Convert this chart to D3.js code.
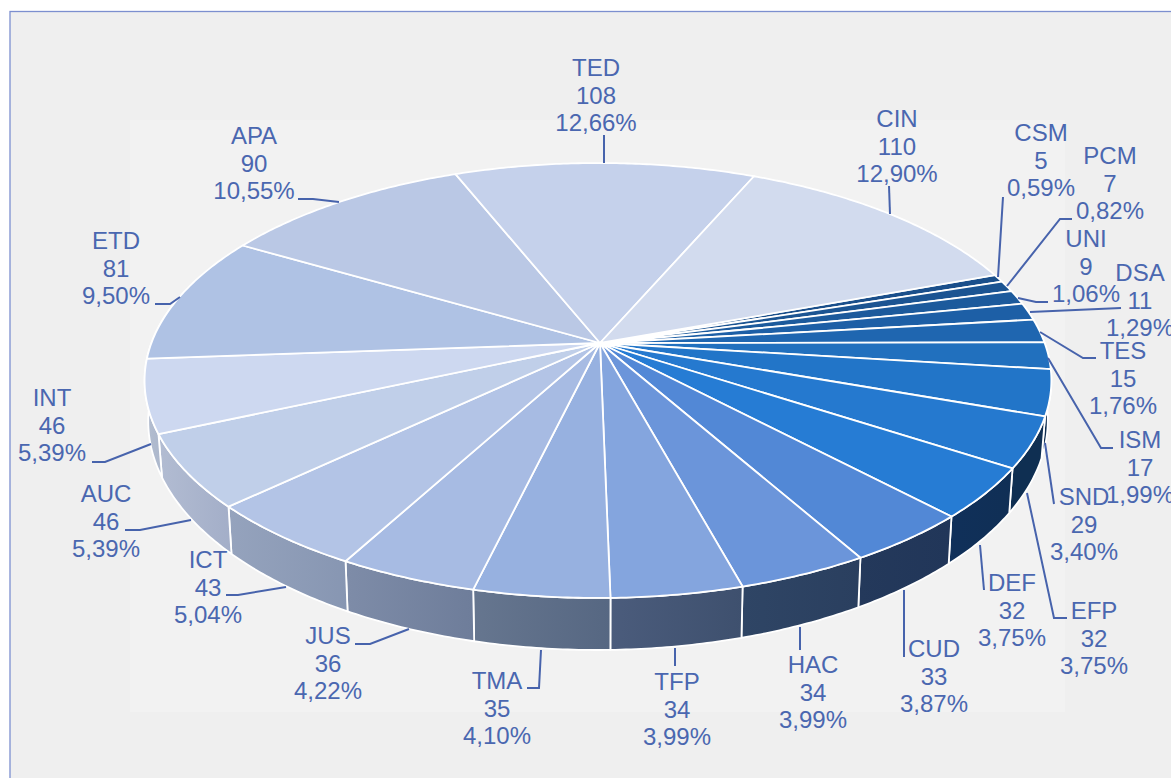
<!DOCTYPE html>
<html>
<head>
<meta charset="utf-8">
<script src="https://cdn.jsdelivr.net/npm/d3@7/dist/d3.min.js"></script>
<style>html,body{margin:0;padding:0;background:#fff;overflow:hidden}svg{display:block}text{font-family:"Liberation Sans",Arial,sans-serif}</style>
</head>
<body>
<svg id="chart" width="1171" height="778"></svg>
<script>
// Data, clockwise from the first slice
const categories = ["CSM","PCM","UNI","DSA","TES","ISM","SND","EFP","DEF","CUD","HAC","TFP","TMA","JUS","ICT","AUC","INT","ETD","APA","TED","CIN"];
const counts = [5,7,9,11,15,17,29,32,32,33,34,34,35,36,43,46,46,81,90,108,110];
const percents = ["0,59%","0,82%","1,06%","1,29%","1,76%","1,99%","3,40%","3,75%","3,75%","3,87%","3,99%","3,99%","4,10%","4,22%","5,04%","5,39%","5,39%","9,50%","10,55%","12,66%","12,90%"];

// Styles
const topColors = ["#1A4F8B","#1B5492","#1C5A9C","#1D5FA6","#1F66B0","#2170BE","#2275C8","#2579CF","#267CD4","#5288D6","#6B95DA","#84A5DE","#97B1E0","#A7BBE3","#B3C4E6","#C0CFE9","#CDD8F0","#AFC2E4","#BAC8E5","#C5D1EB","#D2DBEE"];
const wallLeft = ["#1A4F8B","#1B5492","#1C5A9C","#1D5FA6","#0D2A4A","#0D2A4A","#0E2C4E","#0F2F52","#10305A","#24395B","#2F4565","#4B5C7C","#66768F","#7E8CA8","#95A3BD","#B2BCD2","#B4BED0","#AFC2E4","#BAC8E5","#C5D1EB","#D2DBEE"];
const wallRight = ["#1A4F8B","#1B5492","#1C5A9C","#1D5FA6","#0D2A4A","#0D2A4A","#0E2C4E","#0F2F52","#102F55","#213659","#2A3F5F","#3E506E","#566782","#6E7D9A","#8796B2","#A3AEC8","#ACB7CC","#AFC2E4","#BAC8E5","#C5D1EB","#D2DBEE"];
const inkColor = "#4A67B0", leaderColor = "#4763AC";

// Label layout: x centre, baseline of the first line, leader polyline (in page pixels)
const labelLayout = {
  CSM:{x:1041,y:141,leader:[[1003,197],[998,277]]},
  PCM:{x:1110,y:164,leader:[[1072,219],[1060,219],[1007,286]]},
  UNI:{x:1086,y:247,leader:[[1048,302],[1036,302],[1018,298]]},
  DSA:{x:1140,y:281,leader:[[1121,308],[1030,312]]},
  TES:{x:1123,y:359,leader:[[1096,358],[1083,358],[1040,332]]},
  ISM:{x:1140,y:448,leader:[[1113,448],[1101,448],[1048,358]]},
  SND:{x:1084,y:505,leader:[[1054,504],[1045,443]]},
  EFP:{x:1094,y:619,leader:[[1067,618],[1054,618],[1027,493]]},
  DEF:{x:1012,y:591,leader:[[984,590],[980,545]]},
  CUD:{x:934,y:657,leader:[[904,657],[904,590]]},
  HAC:{x:813,y:673,leader:[[800,650],[800,627]]},
  TFP:{x:677,y:690,leader:[[675,666],[675,648]]},
  TMA:{x:497,y:689,leader:[[527,688],[539,688],[541,650]]},
  JUS:{x:328,y:644,leader:[[355,644],[370,644],[409,629]]},
  ICT:{x:208,y:568,leader:[[226,595],[238,595],[286,587]]},
  AUC:{x:106,y:502,leader:[[125,530],[140,530],[191,520]]},
  INT:{x:52,y:406,leader:[[92,462],[105,462],[151,444]]},
  ETD:{x:116,y:249,leader:[[155,304],[170,304],[180,297]]},
  APA:{x:254,y:144,leader:[[298,199],[313,199],[339,202]]},
  TED:{x:596,y:76,leader:[[604,135],[604,163]]},
  CIN:{x:897,y:127,leader:[[889,186],[890,214]]}
};

// Perspective disc: circle -> screen
const cx = 600, cy = 343, R = 446.6, A = 211, k = 0.1724, j = -0.0044;
const first = 70.0 * Math.PI / 180;
const fOf = (t) => 1 / (1 + k * Math.cos(t) - j * Math.sin(t));
const project = (t) => {
  const f = fOf(t);
  return [cx + R * Math.sin(t) * f, cy - A * Math.cos(t) * f];
};
const projectBottom = (t) => {
  const f = fOf(t);
  const d = 52 * Math.pow(f / 1.208, 1.6);
  return [cx + R * Math.sin(t) * f * 0.992, cy - A * Math.cos(t) * f + d];
};
const samples = (a, b) => {
  const n = Math.max(2, Math.ceil((b - a) / 0.01));
  return d3.range(n + 1).map(i => a + (b - a) * i / n);
};

const svg = d3.select("#chart");
const pieGen = d3.pie().sort(null).startAngle(first).endAngle(first + 2 * Math.PI);
const arcs = pieGen(counts);
const line = d3.line();

// Frame and plot area
svg.append("rect").attr("x",10).attr("y",11.5).attr("width",1200).attr("height",800)
  .attr("fill","#EFEFEF").attr("stroke","#7C8FCF").attr("stroke-width",1.3);
svg.append("rect").attr("x",130).attr("y",120).attr("width",935).attr("height",592).attr("fill","#F2F2F2");

// Gradients
const defs = svg.append("defs");
categories.forEach((c, i) => {
  const g = defs.append("linearGradient").attr("id","w"+c).attr("x1","0").attr("x2","1").attr("y1","0").attr("y2","0");
  g.append("stop").attr("offset","0").attr("stop-color",wallLeft[i]);
  g.append("stop").attr("offset","1").attr("stop-color",wallRight[i]);
});

// Walls: only where the rim faces the viewer
const frontStart = Math.PI / 2 - 0.18, frontEnd = 3 * Math.PI / 2 + 0.18;
svg.append("g").selectAll("path").data(arcs).join("path")
  .attr("d", d => {
    const a = Math.max(d.startAngle, frontStart), b = Math.min(d.endAngle, frontEnd);
    if (b <= a) return null;
    const s = samples(a, b);
    return line(s.map(project).concat(s.slice().reverse().map(projectBottom))) + "Z";
  })
  .attr("fill", d => "url(#w" + categories[d.index] + ")")
  .attr("stroke","#fff").attr("stroke-width",1.8).attr("stroke-linejoin","round");

// Top face
svg.append("g").selectAll("path").data(arcs).join("path")
  .attr("d", d => line([[cx,cy]].concat(samples(d.startAngle, d.endAngle).map(project))) + "Z")
  .attr("fill", d => topColors[d.index])
  .attr("stroke","#fff").attr("stroke-width",1.8).attr("stroke-linejoin","round");

// Leaders
svg.append("g").selectAll("path").data(categories).join("path")
  .attr("d", c => line(labelLayout[c].leader))
  .attr("fill","none").attr("stroke",leaderColor).attr("stroke-width",2);

// Labels
const lab = svg.append("g").selectAll("text").data(categories).join("text")
  .attr("text-anchor","middle").attr("font-size",24).attr("fill",inkColor);
lab.each(function(c, i) {
  const t = d3.select(this), p = labelLayout[c];
  [c, String(counts[i]), percents[i]].forEach((s, j) => {
    t.append("tspan").attr("x",p.x).attr("y",p.y + j * 27.7).text(s);
  });
});
</script>
</body>
</html>
